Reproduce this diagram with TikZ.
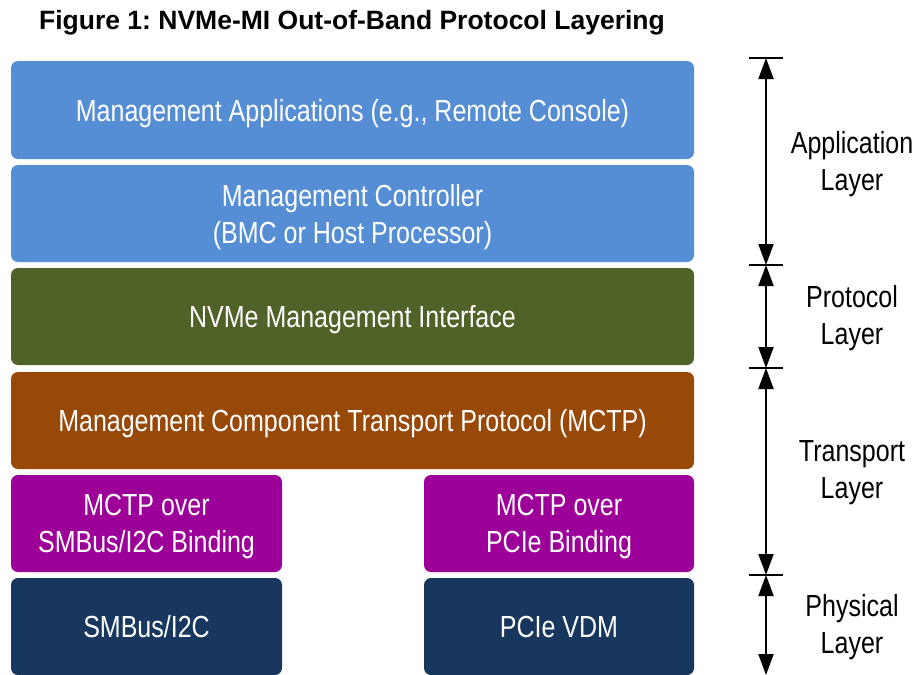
\documentclass[tikz,border=0pt]{standalone}
\usepackage{fontspec}
\setmainfont{Liberation Sans}
\newfontfamily\narrowfont[FakeStretch=0.82]{Liberation Sans}
\usetikzlibrary{arrows.meta,positioning}
\frenchspacing

\definecolor{appblue}{HTML}{558ED5}
\definecolor{protgreen}{HTML}{4F6228}
\definecolor{transbrown}{HTML}{984807}
\definecolor{bindpurple}{HTML}{9C0099}
\definecolor{physnavy}{HTML}{17375E}

\tikzset{
  layerbox/.style={rounded corners=7pt, inner sep=0pt, text=white, align=center,
    text depth=0pt, font=\narrowfont\fontsize{30.5}{37}\selectfont},
  sidelabel/.style={align=center, font=\narrowfont\fontsize{30.5}{37}\selectfont},
  span/.style={line width=2pt, {Triangle[length=21pt,width=15pt]}-{Triangle[length=21pt,width=15pt]}},
}

\begin{document}
\begin{tikzpicture}[x=1pt,y=-1pt]
\useasboundingbox (0,0) rectangle (919,675);
%title
\node[font=\bfseries\fontsize{26.5}{30}\selectfont] (title) at (352,23)
	{Figure 1: NVMe-MI Out-of-Band Protocol Layering};
%stack
\begin{scope}
\node[layerbox, fill=appblue, minimum width=683pt, minimum height=98pt] (apps) at (352.5,110)
	{Management Applications (e.g., Remote Console)};
\node[layerbox, fill=appblue, minimum width=683pt, minimum height=97pt] (ctrl) at (352.5,213.5)
	{Management Controller\\(BMC or Host Processor)};
\node[layerbox, fill=protgreen, minimum width=683pt, minimum height=97pt] (nvmemi) at (352.5,316.5)
	{NVMe Management Interface};
\node[layerbox, fill=transbrown, minimum width=683pt, minimum height=97pt] (mctp) at (352.5,420.5)
	{Management Component Transport Protocol (MCTP)};
\node[layerbox, fill=bindpurple, minimum width=271pt, minimum height=97pt] (smbind) at (146.5,523.5)
	{MCTP over\\SMBus/I2C Binding};
\node[layerbox, fill=bindpurple, minimum width=270pt, minimum height=97pt] (pcibind) at (559,523.5)
	{MCTP over\\PCIe Binding};
\node[layerbox, fill=physnavy, minimum width=271pt, minimum height=97pt] (smbus) at (146.5,626.5)
	{SMBus/I2C};
\node[layerbox, fill=physnavy, minimum width=270pt, minimum height=97pt] (pcievdm) at (559,626.5)
	{PCIe VDM};
\end{scope}
%layer spans
\begin{scope}
\coordinate (t0) at (766,58);
\coordinate (t1) at (766,265);
\coordinate (t2) at (766,368);
\coordinate (t3) at (766,575);
\coordinate (t4) at (766,675);
\foreach \t in {t0,t1,t2,t3}
	\draw[line width=1.5pt] ([xshift=-17pt]\t) -- ([xshift=17pt]\t);
\draw[span] (t0) -- (t1);
\draw[span] (t1) -- (t2);
\draw[span] (t2) -- (t3);
\draw[span] (t3) -- (t4);
\node[sidelabel] (applayer) at (852,164) {Application\\Layer};
\node[sidelabel] (protlayer) at (852,318) {Protocol\\Layer};
\node[sidelabel] (translayer) at (852,473) {Transport\\Layer};
\node[sidelabel] (physlayer) at (852,627) {Physical\\Layer};
\end{scope}
\end{tikzpicture}
\end{document}
